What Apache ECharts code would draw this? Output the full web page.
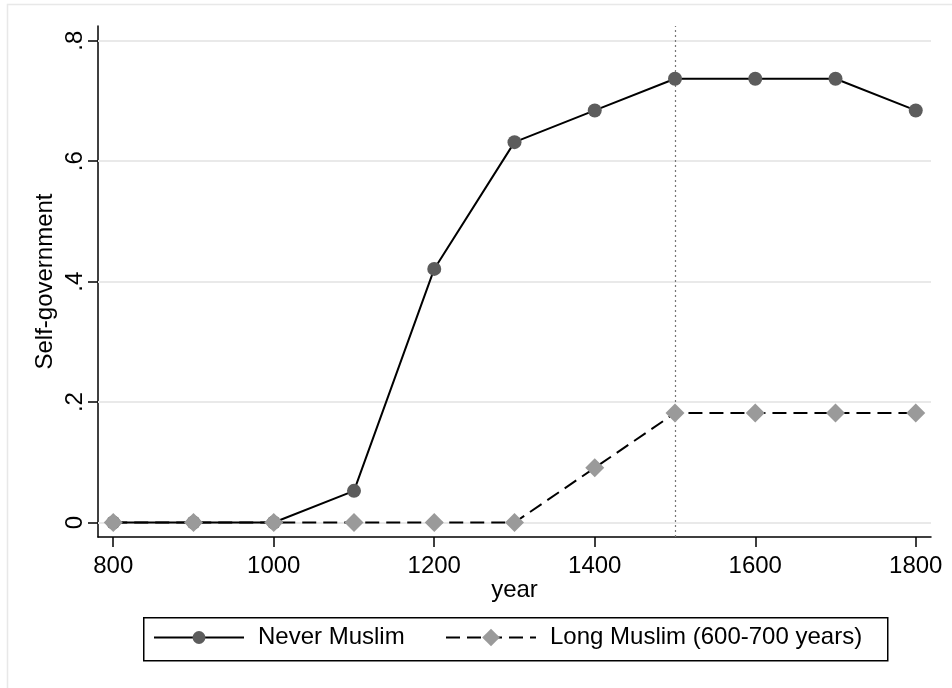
<!DOCTYPE html>
<html>
<head>
<meta charset="utf-8">
<script src="https://cdn.jsdelivr.net/npm/echarts@6/dist/echarts.min.js"></script>
<style>
html,body{margin:0;padding:0;background:#fff;}
#chart{width:952px;height:688px;}
</style>
</head>
<body>
<div id="chart"></div>
<script>
// Data
const years = [800, 900, 1000, 1100, 1200, 1300, 1400, 1500, 1600, 1700, 1800];
const neverMuslim = [0, 0, 0, 0.0526, 0.4211, 0.6316, 0.6842, 0.7368, 0.7368, 0.7368, 0.6842];
const longMuslim = [0, 0, 0, 0, 0, 0, 0.0909, 0.1818, 0.1818, 0.1818, 0.1818];
const xTicks = [800, 1000, 1200, 1400, 1600, 1800];
const yTicks = [0, 0.2, 0.4, 0.6, 0.8];
const yTickLabels = ['0', '.2', '.4', '.6', '.8'];
const seriesNames = ['Never Muslim', 'Long Muslim (600-700 years)'];
const refYear = 1500;

const FONT = '"Liberation Sans", Arial, Helvetica, sans-serif';
const FS = 24;

const chart = echarts.init(document.getElementById('chart'), null, {renderer: 'canvas'});
const pairs = (xs, ys) => xs.map((x, i) => [x, ys[i]]);

const legendText = {fontSize: FS, color: '#000', fontFamily: FONT, padding: [0, 0, 0, 9]};

const option = {
  animation: false,
  backgroundColor: '#ffffff',
  textStyle: {fontFamily: FONT},
  graphic: [
    {
      type: 'rect', left: 5, top: 2, z: -10, silent: true,
      shape: {x: 0, y: 0, width: 980, height: 720},
      style: {fill: 'none', stroke: '#e8e8e8', lineWidth: 1.5}
    },
    {
      type: 'rect', left: 143, top: 617, z: -5, silent: true,
      shape: {x: 0, y: 0, width: 744, height: 43},
      style: {fill: '#fff', stroke: '#000', lineWidth: 1.5}
    }
  ],
  grid: {left: 98, right: 21, top: 26, bottom: 151, containLabel: false},
  xAxis: {
    type: 'value', min: 781, max: 1819,
    name: 'year', nameLocation: 'middle', nameGap: 41, nameMoveOverlap: false,
    nameTextStyle: {fontSize: FS, color: '#000', fontFamily: FONT},
    axisLine: {show: true, onZero: false, lineStyle: {color: '#000', width: 1.5}},
    axisTick: {show: true, length: 10, customValues: xTicks, lineStyle: {color: '#000', width: 1.5}},
    axisLabel: {customValues: xTicks, margin: 17, fontSize: FS, color: '#000', fontFamily: FONT,
      formatter: v => String(v)},
    splitLine: {show: false}
  },
  yAxis: {
    type: 'value', min: -0.024, max: 0.8244,
    name: 'Self-government', nameLocation: 'middle', nameGap: 41, nameMoveOverlap: false,
    nameTextStyle: {fontSize: FS, color: '#000', fontFamily: FONT},
    axisLine: {show: true, onZero: false, lineStyle: {color: '#000', width: 1.5}},
    axisTick: {show: true, length: 10, customValues: yTicks, lineStyle: {color: '#000', width: 1.5}},
    axisLabel: {
      customValues: yTicks, rotate: 90, margin: 11, fontSize: FS, color: '#000', fontFamily: FONT,
      formatter: function (v) {
        const i = yTicks.findIndex(t => Math.abs(t - v) < 1e-9);
        return i >= 0 ? yTickLabels[i] : '';
      }
    },
    splitLine: {show: false}
  },
  legend: [
    {
      left: 153, top: 625.5, orient: 'horizontal', padding: 0,
      itemWidth: 90, itemHeight: 16,
      textStyle: legendText, data: [seriesNames[0]]
    },
    {
      left: 445, top: 625.5, orient: 'horizontal', padding: 0,
      itemWidth: 90, itemHeight: 22,
      textStyle: legendText, data: [seriesNames[1]]
    }
  ],
  series: [
    {
      name: seriesNames[0], type: 'line', data: pairs(years, neverMuslim),
      symbol: 'circle', symbolSize: 14,
      itemStyle: {color: '#5c5c5c'},
      lineStyle: {color: '#000', width: 2},
      z: 3,
      markLine: {
        silent: true, symbol: 'none', label: {show: false}, z: 1,
        lineStyle: {color: '#e9e9e9', width: 2, type: 'solid'},
        data: yTicks.map(v => ({yAxis: v}))
      }
    },
    {
      name: seriesNames[1], type: 'line', data: pairs(years, longMuslim),
      symbol: 'diamond', symbolSize: 19,
      itemStyle: {color: '#9a9a9a'},
      lineStyle: {color: '#000', width: 2, type: [14, 7]},
      z: 4,
      markLine: {
        silent: true, symbol: 'none', label: {show: false}, z: 2,
        lineStyle: {color: '#777', width: 1.2, type: [2, 3]},
        data: [{xAxis: refYear}]
      }
    }
  ]
};
chart.setOption(option);
</script>
</body>
</html>
